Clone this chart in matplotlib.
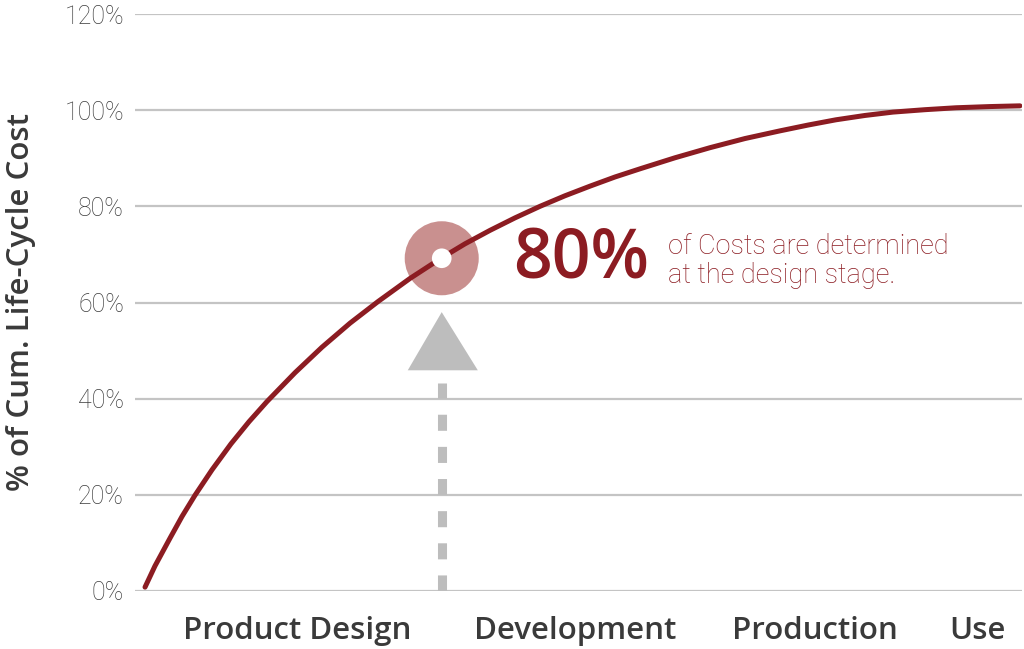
import matplotlib
matplotlib.use("Agg")
import matplotlib.pyplot as plt
from matplotlib.patches import Polygon

# ---- data ----
stage_labels = ["Product Design", "Development", "Production", "Use"]
stage_pos = [18.3, 49.6, 76.7, 95.0]

curve_x = [1.13, 2.25, 3.95, 5.30, 6.76, 8.68, 10.82, 12.85, 14.88, 18.04,
           21.08, 24.24, 27.40, 31.00, 34.50, 37.20, 40.02, 42.84, 45.66,
           48.48, 51.30, 54.11, 56.93, 60.88, 64.83, 68.77, 72.72, 75.87,
           79.03, 82.30, 85.46, 89.06, 92.56, 96.39, 99.77]
curve_y = [0.8, 5.2, 11.0, 15.5, 19.9, 25.2, 30.6, 35.2, 39.4, 45.4,
           50.7, 55.7, 60.2, 65.0, 69.2, 72.2, 75.0, 77.6, 80.0,
           82.2, 84.2, 86.1, 87.8, 90.1, 92.2, 94.1, 95.7, 96.9,
           98.0, 98.9, 99.6, 100.1, 100.5, 100.75, 100.9]

y_ticks = [0, 20, 40, 60, 80, 100, 120]
y_tick_labels = ["0%", "20%", "40%", "60%", "80%", "100%", "120%"]

marker_x, marker_y = 34.58, 69.2
big_label = "80%"
small_label = "of Costs are determined\nat the design stage."
y_label = "% of Cum. Life-Cycle Cost"

RED = "#8c1c22"
PINK = "#c9908f"
GRAY = "#bdbdbd"
TXT = "#3a3a3a"

fig = plt.figure(figsize=(10.24, 6.49), dpi=100)
ax = fig.add_axes([135/1024, 58/649, 887/1024, 577/649])
ax.set_xlim(0, 100)
ax.set_ylim(0, 120)

for s in ax.spines.values():
    s.set_visible(False)

ax.set_yticks(y_ticks)
ax.set_yticklabels(y_tick_labels, fontfamily="Roboto", fontweight="light",
                   fontsize=18, color="#3c3c3c")
ax.yaxis.grid(True, color="#c4c4c4", lw=1.6)
ax.set_axisbelow(True)
ax.tick_params(axis="y", length=0, pad=8)

ax.set_xticks(stage_pos)
ax.set_xticklabels(stage_labels, fontfamily="Open Sans", fontweight="semibold",
                   fontsize=22.5, color=TXT)
ax.tick_params(axis="x", length=0, pad=18)

ax.set_ylabel(y_label, fontfamily="Open Sans", fontweight="semibold",
              fontsize=22.5, color=TXT, labelpad=20)

# arrow: dashed shaft + triangle head
ax.plot([marker_x, marker_x], [0, 43.2], color=GRAY, lw=6.5,
        dashes=(1.78, 1.78), solid_capstyle="butt", dash_capstyle="butt",
        zorder=2)
tri = Polygon([[30.75, 45.9], [38.65, 45.9], [marker_x, 58.0]],
              closed=True, facecolor=GRAY, edgecolor="none", zorder=2)
ax.add_patch(tri)

# pink disc under the curve
ax.scatter([marker_x], [marker_y], s=2841, color=PINK, edgecolor="none",
           zorder=3)
ax.plot(curve_x, curve_y, color=RED, lw=3.6, solid_capstyle="round",
        solid_joinstyle="round", zorder=4)
ax.scatter([marker_x], [marker_y], s=200, color="white", edgecolor="none",
           zorder=5)

ax.text(42.6, 68.8, big_label, fontfamily="Open Sans", fontweight="semibold",
        fontsize=49, color=RED, va="center", ha="left")
ax.text(60.1, 68.6, small_label, fontfamily="Roboto", fontweight="light",
        fontsize=19.5, color=RED, va="center", ha="left", linespacing=1.1)

fig.savefig("out.png", dpi=100)
